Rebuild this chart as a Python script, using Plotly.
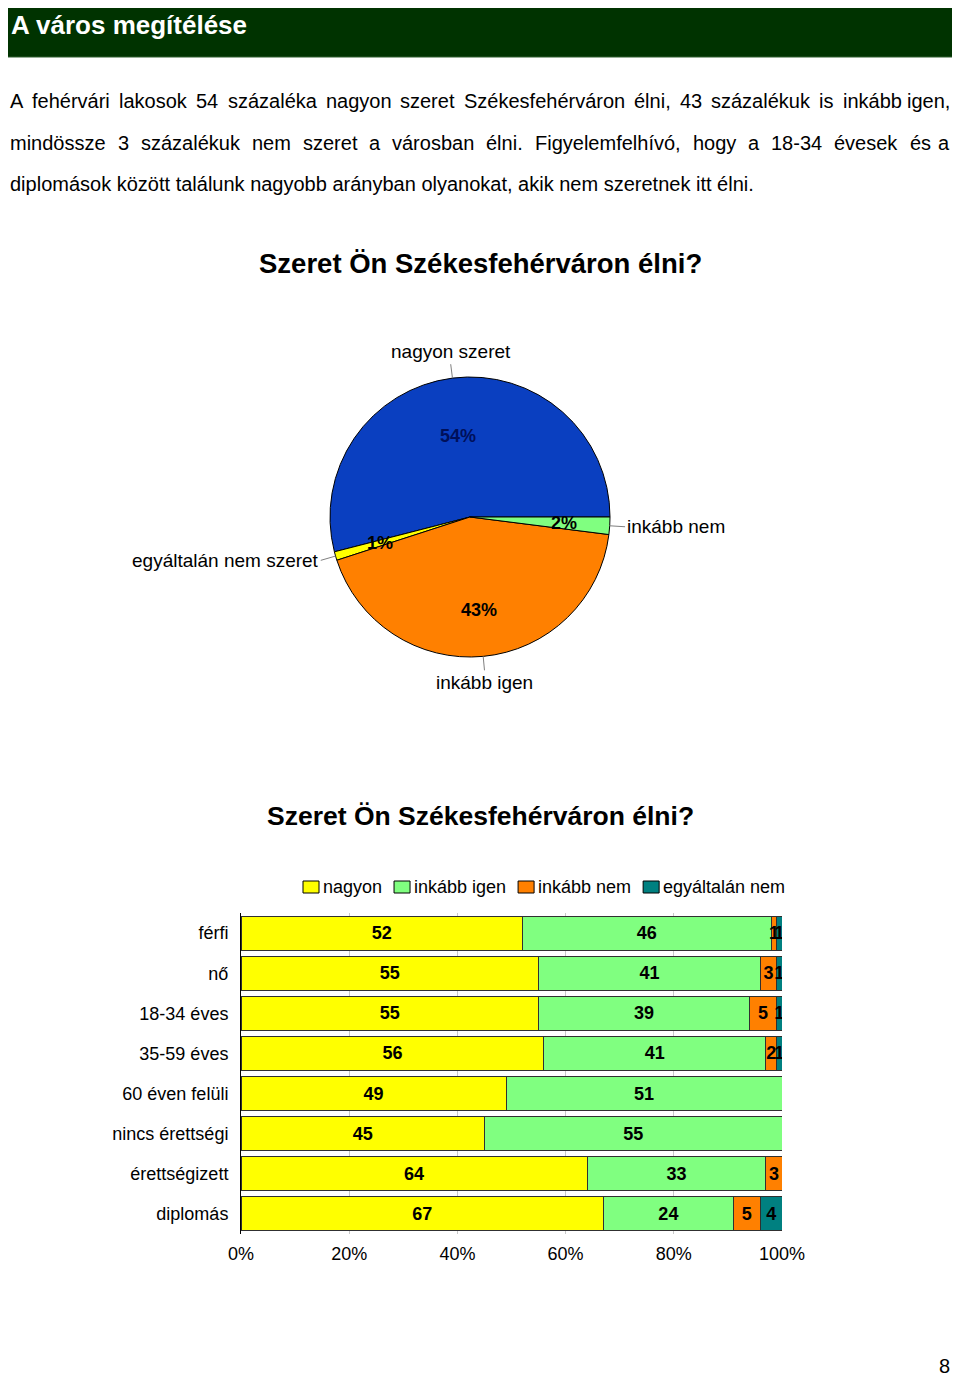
import math
import plotly.graph_objects as go

# ---- data ----
pie_labels = ['nagyon szeret', 'egyáltalán nem szeret', 'inkább igen', 'inkább nem']
pie_values = [54, 1, 43, 2]
pie_colors = ['#0a3fc0', '#ffff00', '#ff8000', '#80ff80']

groups = ['férfi', 'nő', '18-34 éves', '35-59 éves', '60 éven felüli',
          'nincs érettségi', 'érettségizett', 'diplomás']
series_names = ['nagyon', 'inkább igen', 'inkább nem', 'egyáltalán nem']
nagyon = [52, 55, 55, 56, 49, 45, 64, 67]
inkabb_igen = [46, 41, 39, 41, 51, 55, 33, 24]
inkabb_nem = [1, 3, 5, 2, 0, 0, 3, 5]
egyaltalan_nem = [1, 1, 1, 1, 0, 0, 0, 4]
bar_colors = ['#ffff00', '#80ff80', '#ff8000', '#008080']
x_ticks = [0, 20, 40, 60, 80, 100]

page_title = 'A város megítélése'
chart_title = 'Szeret Ön Székesfehérváron élni?'
body_lines = [
    'A fehérvári lakosok 54 százaléka nagyon szeret Székesfehérváron élni, 43 százalékuk is inkább igen,',
    'mindössze 3 százalékuk nem szeret a városban élni. Figyelemfelhívó, hogy a 18-34 évesek és a',
    'diplomások között találunk nagyobb arányban olyanokat, akik nem szeretnek itt élni.',
]

W, H = 960, 1376
OFF = 8  # the page body margin shifts the figure by this much
ARIAL = 'Liberation Sans, Arial, sans-serif'


def px(x):
    return (x - OFF) / W


def py(y):
    return 1 - (y - OFF) / H


# Arial advance widths (1/1000 em), used to justify text and lay out the legend
ADV = {' ': 278, 'f': 278, 'i': 222, 'j': 222, 'l': 222, 'r': 333, 't': 278, 'í': 278,
       'c': 500, 'k': 500, 's': 500, 'v': 500, 'x': 500, 'y': 500, 'z': 500,
       'm': 833, 'w': 722, 'A': 667, 'S': 667, 'F': 611, ',': 278, '.': 278, '-': 333}


def text_width(s, size):
    return sum(ADV.get(c, 556) for c in s) / 1000 * size


fig = go.Figure()
annotations = []
shapes = []

# Header bar (kept below so the white title stays on top)
shapes.append(dict(type='rect', xref='paper', yref='paper', layer='below',
                   x0=px(5), x1=px(955), y0=py(57), y1=py(3),
                   fillcolor='#003300', line=dict(color='#2f5f2f', width=1)))
annotations.append(dict(text='<b>%s</b>' % page_title, x=px(9), y=py(8), xref='paper', yref='paper',
                        xanchor='left', yanchor='top', showarrow=False,
                        font=dict(family=ARIAL, size=26, color='#ffffff')))

# Paragraph, justified word by word
BODY = 20
left, right = 8, 952
line_y = [101, 143, 184]
for i, line in enumerate(body_lines):
    words = line.split(' ')
    if i < len(body_lines) - 1:
        widths = [text_width(w, BODY) for w in words]
        gap = (right - left - sum(widths)) / (len(words) - 1)
        x = left
        for j, w in enumerate(words):
            last = j == len(words) - 1
            annotations.append(dict(text=w, x=px(right if last else x), y=py(line_y[i]),
                                    xref='paper', yref='paper',
                                    xanchor='right' if last else 'left', yanchor='middle',
                                    showarrow=False,
                                    font=dict(family=ARIAL, size=BODY, color='black')))
            x += widths[j] + gap
    else:
        annotations.append(dict(text=line, x=px(left), y=py(line_y[i]),
                                xref='paper', yref='paper', xanchor='left', yanchor='middle',
                                showarrow=False, font=dict(family=ARIAL, size=BODY, color='black')))

# Titles
for tx, ty, ts in ((480, 263, 27.5), (480, 816, 26.5)):
    annotations.append(dict(text='<b>%s</b>' % chart_title, x=px(tx), y=py(ty),
                            xref='paper', yref='paper', xanchor='center', yanchor='middle',
                            showarrow=False, font=dict(family=ARIAL, size=ts, color='black')))

# ---- pie ----
cx, cy, r = 470, 517, 140
total = sum(pie_values)
# first slice runs counterclockwise from 3 o'clock; plotly measures rotation
# at the clockwise start of the first slice
rot = 90 - 360 * pie_values[0] / total
fig.add_trace(go.Pie(
    labels=pie_labels, values=pie_values, sort=False,
    direction='counterclockwise', rotation=rot,
    marker=dict(colors=pie_colors, line=dict(color='black', width=1)),
    textinfo='none', showlegend=False, hoverinfo='label+percent',
    domain=dict(x=[px(cx - r), px(cx + r)], y=[py(cy + r), py(cy - r)]),
))

# percent labels and outside labels with leader lines, placed from slice angles
cum = 0
for lab, v in zip(pie_labels, pie_values):
    mid = math.radians((cum + v / 2) / total * 360)
    cum += v
    c, s = math.cos(mid), math.sin(mid)
    pct_col = '#00105a' if lab == 'nagyon szeret' else 'black'
    annotations.append(dict(text='<b>%d%%</b>' % round(v / total * 100),
                            x=px(cx + 0.67 * r * c), y=py(cy - 0.67 * r * s),
                            xref='paper', yref='paper', showarrow=False,
                            font=dict(family=ARIAL, size=18, color=pct_col)))
    end = 1.1 if abs(c) < 0.3 else 1.11
    shapes.append(dict(type='line', xref='paper', yref='paper',
                       x0=px(cx + r * c), y0=py(cy - r * s),
                       x1=px(cx + end * r * c), y1=py(cy - end * r * s),
                       line=dict(color='#808080', width=1)))
    if abs(c) < 0.3:
        xa, ya = 'center', ('bottom' if s > 0 else 'top')
    else:
        xa, ya = ('left' if c > 0 else 'right'), 'middle'
    annotations.append(dict(text=lab, x=px(cx + end * r * c), y=py(cy - end * r * s),
                            xref='paper', yref='paper', xanchor=xa, yanchor=ya,
                            showarrow=False, font=dict(family=ARIAL, size=19, color='black')))

# ---- stacked bars ----
for name, vals, col in zip(series_names, [nagyon, inkabb_igen, inkabb_nem, egyaltalan_nem], bar_colors):
    fig.add_trace(go.Bar(
        y=groups, x=vals, name=name, orientation='h', showlegend=False,
        marker=dict(color=col, line=dict(color='#303030', width=1)),
        text=[str(v) if v else '' for v in vals],
        textposition='inside', insidetextanchor='middle', textangle=0,
        constraintext='none',
        textfont=dict(family=ARIAL, size=18, color='black', weight='bold'),
    ))

# Legend drawn by hand: small outlined box followed right away by its label
lx = 303
for name, col in zip(series_names, bar_colors):
    shapes.append(dict(type='rect', xref='paper', yref='paper',
                       x0=px(lx), x1=px(lx + 16), y0=py(893), y1=py(881),
                       fillcolor=col, line=dict(color='black', width=1)))
    annotations.append(dict(text=name, x=px(lx + 18), y=py(887), xref='paper', yref='paper',
                            xanchor='left', yanchor='middle', showarrow=False,
                            font=dict(family=ARIAL, size=18, color='black')))
    lx += 18 + text_width(name, 18) + 14

annotations.append(dict(text='8', x=px(952), y=py(1366), xref='paper', yref='paper',
                        xanchor='right', yanchor='middle', showarrow=False,
                        font=dict(family=ARIAL, size=20, color='black')))

fig.update_layout(
    width=W, height=H,
    margin=dict(l=0, r=0, t=0, b=0, autoexpand=False),
    paper_bgcolor='white', plot_bgcolor='white',
    barmode='stack', bargap=0.15,
    showlegend=False,
    xaxis=dict(domain=[px(241), px(782)], range=[0, 100], tickvals=x_ticks,
               ticktext=['%d%%' % t for t in x_ticks], showgrid=True, automargin=False,
               gridcolor='#c8c8c8', gridwidth=1, zeroline=False, showline=False,
               ticks='', ticklabelstandoff=7,
               tickfont=dict(family=ARIAL, size=18, color='black')),
    yaxis=dict(domain=[py(1234), py(913)], autorange='reversed', showline=True, automargin=False,
               linecolor='black', linewidth=1, ticks='', showgrid=False,
               ticklabelstandoff=8,
               tickfont=dict(family=ARIAL, size=18, color='black')),
    annotations=annotations,
    shapes=shapes,
)

fig.write_html('out.html')
